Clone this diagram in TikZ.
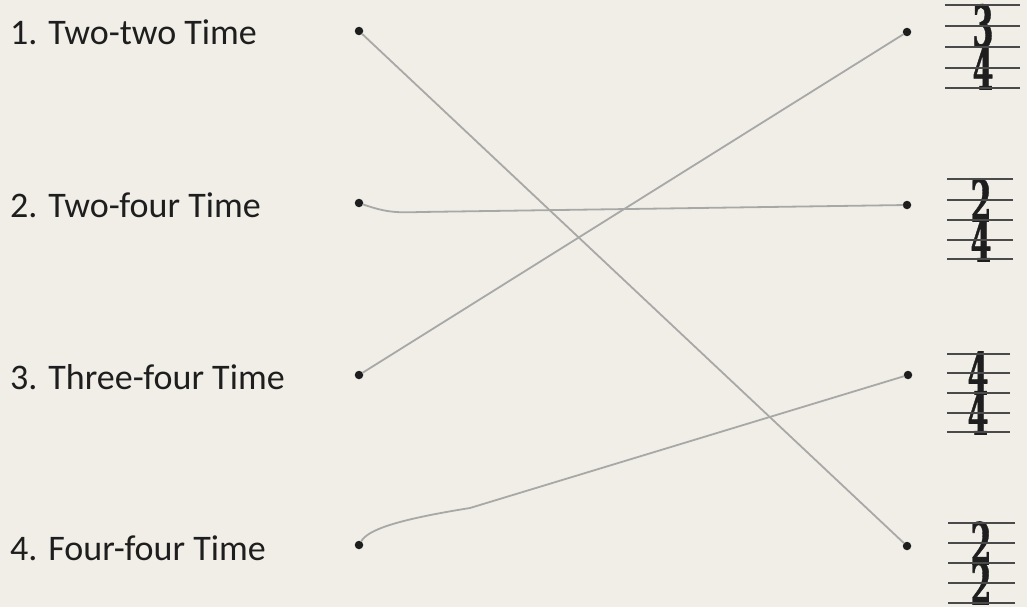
\documentclass[tikz,border=0pt]{standalone}
\usepackage{fontspec}
\setsansfont{Carlito}
\newfontfamily\sigfont{DejaVu Serif}[FakeBold=1.2]
\usepackage{graphicx}
\usepackage{xcolor}
\usetikzlibrary{calc,positioning}
\definecolor{paper}{HTML}{F0EEE7}
\definecolor{inkmain}{HTML}{1E1E1E}
\definecolor{pencil}{HTML}{A8A8A6}
\definecolor{staffgray}{HTML}{4A4A4A}

\tikzset{
  label/.style={anchor=base west, inner sep=0pt, font=\fontsize{36}{40}\selectfont\sffamily\color{inkmain}},
  dot/.style={circle, fill=inkmain, inner sep=0pt, minimum size=8.5pt},
  pencilline/.style={pencil, line width=1.8pt, line cap=round},
  staffline/.style={staffgray, line width=1.8pt},
  sigdigit/.style={inner sep=0pt, font=\fontsize{58}{58}\sigfont\bfseries\color{inkmain}}
}

\begin{document}
\begin{tikzpicture}[x=1pt, y=-1pt]

\useasboundingbox[fill=paper] (0,0) rectangle (1027,607);

% Left labels
\node[label] (t1) at (10, 45) {1. Two-two Time};
\node[label] (t2) at (10, 217) {2. Two-four Time};
\node[label] (t3) at (10, 389) {3. Three-four Time};
\node[label] (t4) at (10, 560) {4. Four-four Time};

% Left dots
\node[dot] (l1) at (359, 31) {};
\node[dot] (l2) at (359, 203) {};
\node[dot] (l3) at (359, 375) {};
\node[dot] (l4) at (359, 545) {};

% Right dots
\node[dot] (r1) at (907, 32) {};
\node[dot] (r2) at (907, 205) {};
\node[dot] (r3) at (908, 375) {};
\node[dot] (r4) at (907, 546) {};

% Time signatures (top digit on 2nd line, bottom digit on 4th line)
% 3/4
\node[sigdigit] (s1top) at (983, 26) {\scalebox{0.52}[1]{3}};
\node[sigdigit] (s1bot) at (983, 68) {\scalebox{0.52}[1]{4}};
\foreach \y in {5, 26, 47, 68, 88}
  \draw[staffline] (945, \y) -- (1020, \y);

% 2/4
\node[sigdigit] (s2top) at (981, 200) {\scalebox{0.52}[1]{2}};
\node[sigdigit] (s2bot) at (981, 240) {\scalebox{0.52}[1]{4}};
\foreach \y in {179, 200, 220, 240, 259}
  \draw[staffline] (947, \y) -- (1013, \y);

% 4/4
\node[sigdigit] (s3top) at (978, 373) {\scalebox{0.52}[1]{4}};
\node[sigdigit] (s3bot) at (978, 413) {\scalebox{0.52}[1]{4}};
\foreach \y in {354, 373, 393, 413, 432}
  \draw[staffline] (947, \y) -- (1010, \y);

% 2/2
\node[sigdigit] (s4top) at (981, 543) {\scalebox{0.52}[1]{2}};
\node[sigdigit] (s4bot) at (981, 583) {\scalebox{0.52}[1]{2}};
\foreach \y in {523, 543, 563, 583, 603}
  \draw[staffline] (948, \y) -- (1015, \y);

% Matching lines
\draw[pencilline] (l1) -- (r4);
\draw[pencilline] (l2) .. controls (385, 212) and (395, 213) .. (420, 212) -- (r2);
\draw[pencilline] (l3) -- (r1);
\draw[pencilline] (l4) .. controls (368, 530) and (395, 520) .. (470, 508) -- (r3);

\end{tikzpicture}
\end{document}
